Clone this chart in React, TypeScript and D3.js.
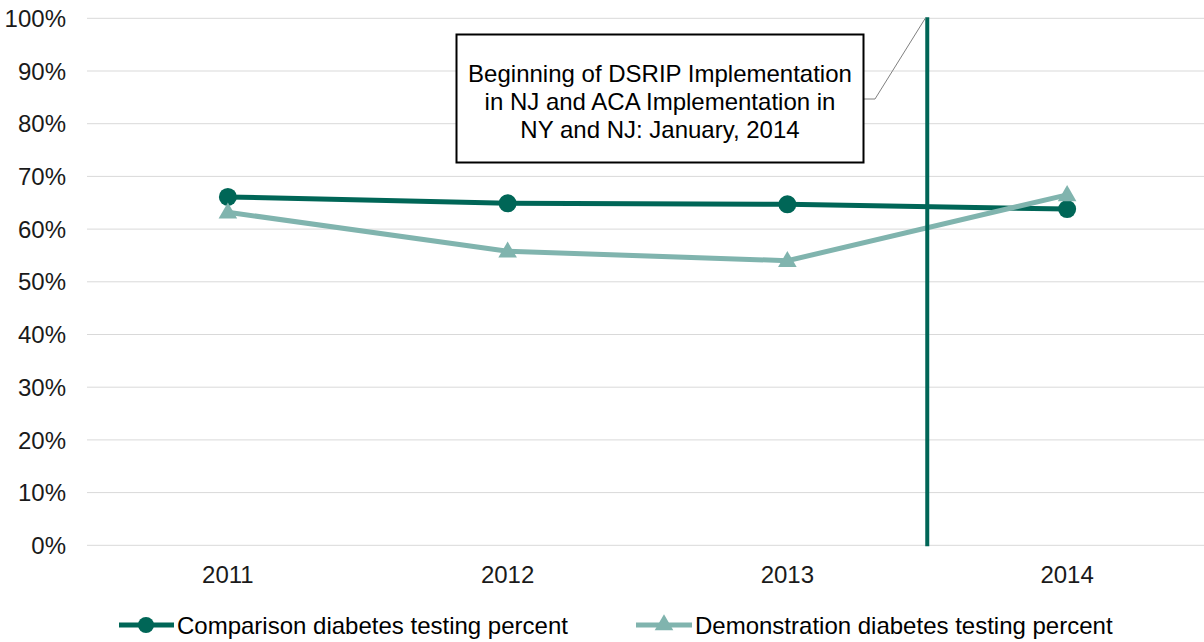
import React from "react";
import * as d3 from "d3";

const years = ["2011", "2012", "2013", "2014"];
const comparison = [0.661, 0.649, 0.647, 0.638];
const demonstration = [0.632, 0.558, 0.540, 0.665];
const yTicks = [0, 0.1, 0.2, 0.3, 0.4, 0.5, 0.6, 0.7, 0.8, 0.9, 1.0];
const seriesNames = ["Comparison diabetes testing percent", "Demonstration diabetes testing percent"];
const annotationLines = ["Beginning of DSRIP Implementation", "in NJ and ACA Implementation in", "NY and NJ: January, 2014"];

const W = 1204, H = 642;
const left = 88, right = 1207, top = 18.3, bottom = 545.3;
const DARK = "#006657";
const LIGHT = "#80b4ae";
const FONT = "'Liberation Sans', Arial, sans-serif";
const FS = 24;

export default function App() {
  const x = d3.scalePoint<string>().domain(years).range([left, right]).padding(0.5);
  const y = d3.scaleLinear().domain([0, 1]).range([bottom, top]);
  const line = d3.line<number>().x((_, i) => x(years[i])!).y((d) => y(d));
  const sym = d3.symbol().type(d3.symbolTriangle).size(150)();
  const vx = (x("2013")! + x("2014")!) / 2;
  const fmt = d3.format(".0%");

  return (
    <svg width={W} height={H} style={{ position: "absolute", left: 0, top: 0, background: "#fff" }} fontFamily={FONT}>
      {yTicks.map((t) => (
        <g key={t}>
          <line x1={left - 1} x2={W} y1={y(t)} y2={y(t)} stroke="#d9d9d9" strokeWidth={1} />
          <text x={66} y={y(t)} dy="0.36em" textAnchor="end" fontSize={FS} fill="#1a1a1a">{fmt(t)}</text>
        </g>
      ))}
      {years.map((yr) => (
        <text key={yr} x={x(yr)} y={574} dy="0.36em" textAnchor="middle" fontSize={FS} fill="#1a1a1a">{yr}</text>
      ))}
      <path d={line(comparison)!} fill="none" stroke={DARK} strokeWidth={5} />
      <path d={line(demonstration)!} fill="none" stroke={LIGHT} strokeWidth={5} />
      {comparison.map((v, i) => (
        <circle key={i} cx={x(years[i])} cy={y(v)} r={9} fill={DARK} />
      ))}
      {demonstration.map((v, i) => (
        <path key={i} d={sym!} transform={`translate(${x(years[i])},${y(v) + 1})`} fill={LIGHT} />
      ))}
      <line x1={vx} x2={vx} y1={top - 1} y2={bottom + 1} stroke={DARK} strokeWidth={4} />
      <polyline points={`864,99 875,99 ${vx - 2},${top}`} fill="none" stroke="#808080" strokeWidth={1} />
      <rect x={456.5} y={34.5} width={407} height={128} fill="#fff" stroke="#000" strokeWidth={2} />
      {annotationLines.map((l, i) => (
        <text key={i} x={660} y={73 + i * 28} dy="0.36em" textAnchor="middle" fontSize={FS} fill="#000">{l}</text>
      ))}
      <g>
        <line x1={119} x2={174} y1={625} y2={625} stroke={DARK} strokeWidth={5} />
        <circle cx={146} cy={625} r={8} fill={DARK} />
        <text x={177} y={625} dy="0.36em" fontSize={FS} fill="#000">{seriesNames[0]}</text>
        <line x1={636} x2={692} y1={625} y2={625} stroke={LIGHT} strokeWidth={5} />
        <path d={sym!} transform={`translate(664,625)`} fill={LIGHT} />
        <text x={695} y={625} dy="0.36em" fontSize={FS} fill="#000">{seriesNames[1]}</text>
      </g>
    </svg>
  );
}
